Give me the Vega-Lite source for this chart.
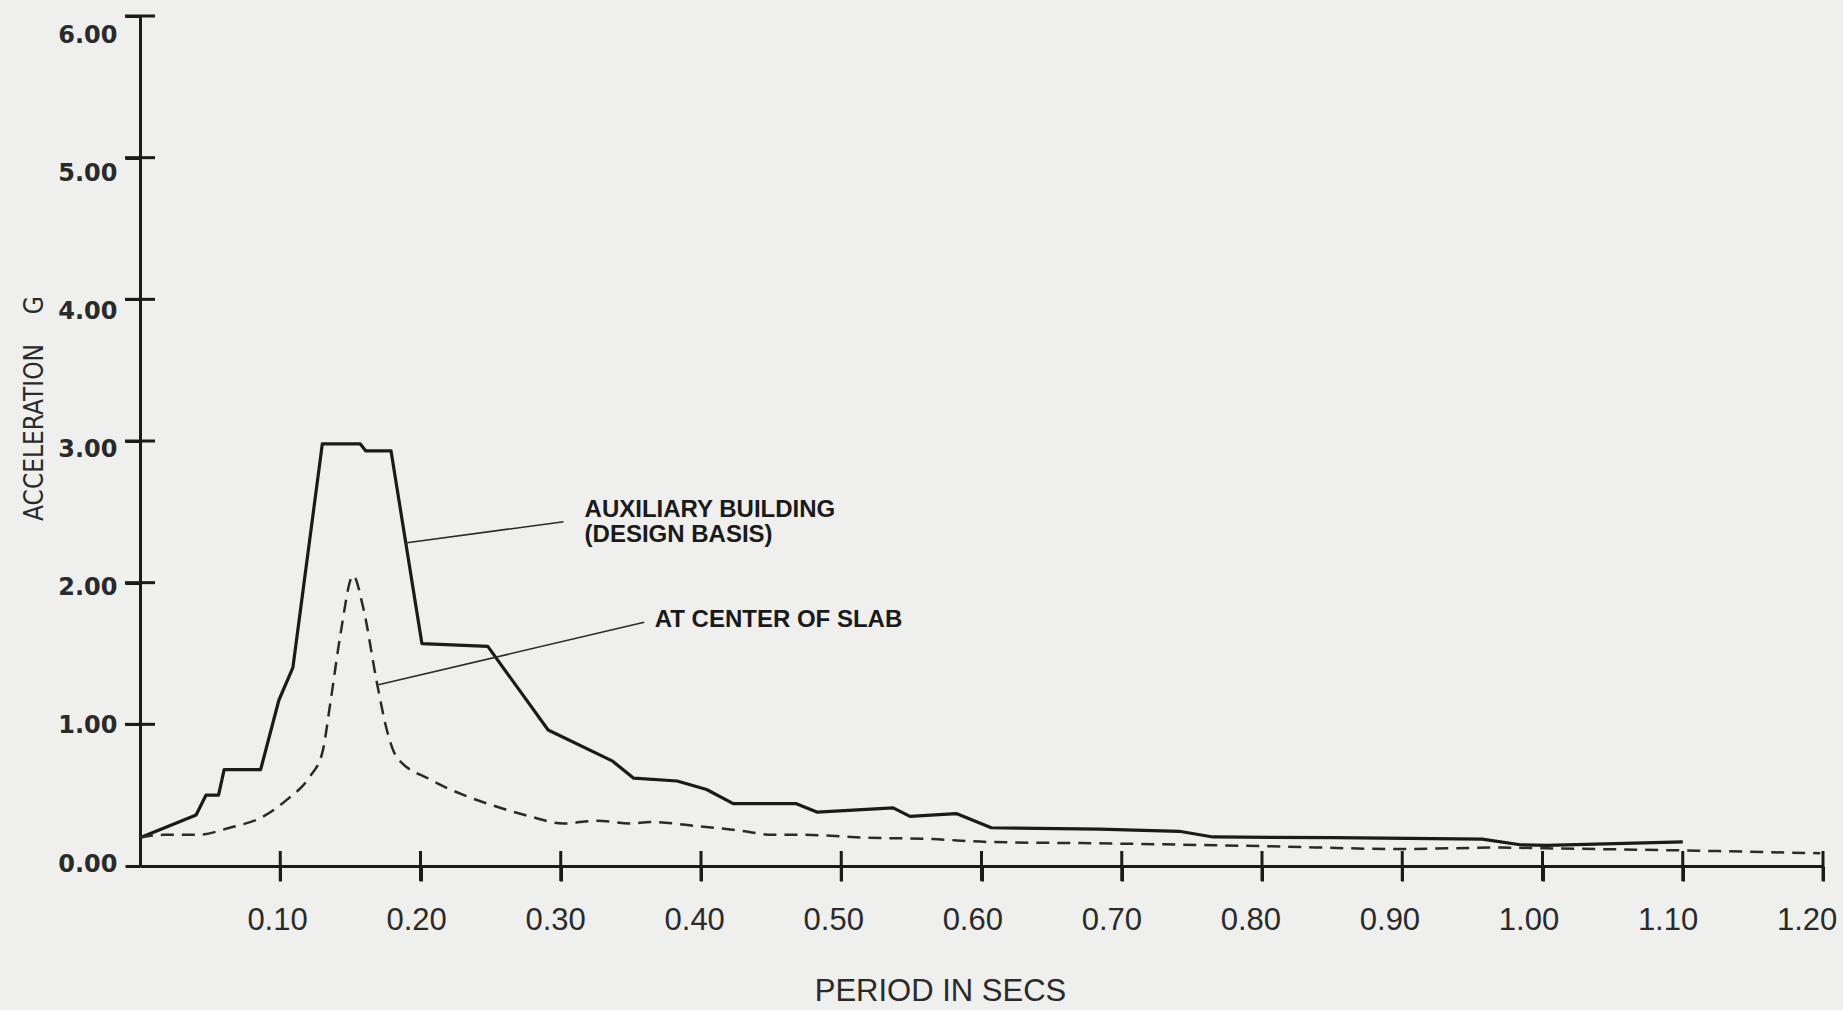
{
  "$schema": "https://vega.github.io/schema/vega-lite/v6.json",
  "width": 1683,
  "height": 850,
  "autosize": "none",
  "padding": {"left": 140, "top": 16, "right": 20, "bottom": 144},
  "background": "#efefed",
  "config": {"view": {"stroke": null}},
  "datasets": {
    "aux": [
      {"x": 0.0, "y": 0.20}, {"x": 0.040, "y": 0.36}, {"x": 0.047, "y": 0.50}, {"x": 0.056, "y": 0.50},
      {"x": 0.060, "y": 0.68}, {"x": 0.086, "y": 0.68}, {"x": 0.099, "y": 1.17}, {"x": 0.109, "y": 1.40},
      {"x": 0.130, "y": 2.98}, {"x": 0.157, "y": 2.98}, {"x": 0.161, "y": 2.93}, {"x": 0.179, "y": 2.93},
      {"x": 0.201, "y": 1.57}, {"x": 0.248, "y": 1.55}, {"x": 0.291, "y": 0.96}, {"x": 0.337, "y": 0.74},
      {"x": 0.352, "y": 0.62}, {"x": 0.383, "y": 0.60}, {"x": 0.404, "y": 0.54}, {"x": 0.423, "y": 0.44},
      {"x": 0.468, "y": 0.44}, {"x": 0.483, "y": 0.38}, {"x": 0.537, "y": 0.41}, {"x": 0.549, "y": 0.35},
      {"x": 0.582, "y": 0.37}, {"x": 0.607, "y": 0.27}, {"x": 0.684, "y": 0.26}, {"x": 0.741, "y": 0.245},
      {"x": 0.765, "y": 0.205}, {"x": 0.851, "y": 0.20}, {"x": 0.957, "y": 0.19}, {"x": 0.984, "y": 0.15},
      {"x": 1.003, "y": 0.146}, {"x": 1.10, "y": 0.17}
    ],
    "slab": [
      {"x": 0.0, "y": 0.20}, {"x": 0.017, "y": 0.22}, {"x": 0.041, "y": 0.22}, {"x": 0.064, "y": 0.27},
      {"x": 0.088, "y": 0.35}, {"x": 0.105, "y": 0.47}, {"x": 0.121, "y": 0.63}, {"x": 0.130, "y": 0.80},
      {"x": 0.136, "y": 1.17}, {"x": 0.143, "y": 1.64}, {"x": 0.152, "y": 2.05}, {"x": 0.159, "y": 1.83},
      {"x": 0.169, "y": 1.29}, {"x": 0.176, "y": 0.96}, {"x": 0.183, "y": 0.77}, {"x": 0.207, "y": 0.61},
      {"x": 0.231, "y": 0.50}, {"x": 0.254, "y": 0.42}, {"x": 0.278, "y": 0.35}, {"x": 0.302, "y": 0.30},
      {"x": 0.326, "y": 0.32}, {"x": 0.349, "y": 0.30}, {"x": 0.364, "y": 0.31}, {"x": 0.399, "y": 0.28},
      {"x": 0.428, "y": 0.25}, {"x": 0.451, "y": 0.22}, {"x": 0.471, "y": 0.22}, {"x": 0.518, "y": 0.20},
      {"x": 0.565, "y": 0.19}, {"x": 0.604, "y": 0.17}, {"x": 0.684, "y": 0.16}, {"x": 0.803, "y": 0.14},
      {"x": 0.898, "y": 0.12}, {"x": 0.970, "y": 0.13}, {"x": 1.003, "y": 0.125}, {"x": 1.10, "y": 0.11},
      {"x": 1.198, "y": 0.09}
    ],
    "leaders": [
      {"id": "a", "x": 0.189, "y": 2.28}, {"id": "a", "x": 0.302, "y": 2.43},
      {"id": "b", "x": 0.170, "y": 1.28}, {"id": "b", "x": 0.3595, "y": 1.72}
    ],
    "notes": [
      {"text": "AUXILIARY BUILDING", "x": 0.317, "y": 2.51},
      {"text": "(DESIGN BASIS)", "x": 0.317, "y": 2.34},
      {"text": "AT CENTER OF SLAB", "x": 0.367, "y": 1.74}
    ],
    "xticks": [
      {"x": 0.1, "y": 0}, {"x": 0.2, "y": 0}, {"x": 0.3, "y": 0}, {"x": 0.4, "y": 0}, {"x": 0.5, "y": 0},
      {"x": 0.6, "y": 0}, {"x": 0.7, "y": 0}, {"x": 0.8, "y": 0}, {"x": 0.9, "y": 0}, {"x": 1.0, "y": 0},
      {"x": 1.1, "y": 0}, {"x": 1.2, "y": 0}
    ],
    "yticks": [
      {"x": 0, "y": 1}, {"x": 0, "y": 2}, {"x": 0, "y": 3}, {"x": 0, "y": 4}, {"x": 0, "y": 5}, {"x": 0, "y": 6}
    ]
  },
  "layer": [
    {
      "data": {"name": "aux"},
      "mark": {"type": "line", "color": "#1a1a1a", "strokeWidth": 3.2, "strokeJoin": "round"},
      "encoding": {
        "x": {
          "field": "x", "type": "quantitative",
          "scale": {"domain": [0, 1.2], "nice": false, "zero": true},
          "axis": {
            "title": "PERIOD IN SECS",
            "values": [0.1, 0.2, 0.3, 0.4, 0.5, 0.6, 0.7, 0.8, 0.9, 1.0, 1.1, 1.2],
            "format": ".2f",
            "grid": false,
            "domainColor": "#1a1a1a", "domainWidth": 3,
            "ticks": true, "tickSize": 15, "tickWidth": 3, "tickColor": "#1a1a1a",
            "labelFont": "Liberation Sans", "labelFontSize": 31, "labelColor": "#2a2a2a",
            "labelPadding": 24, "labelOverlap": false, "labelFlush": false,
            "labelOffset": {"expr": "-2 - datum.value * 12"},
            "titleFont": "Liberation Sans", "titleFontSize": 31, "titleFontWeight": "normal", "titleColor": "#2a2a2a",
            "titleX": 800, "titleY": 134, "titleAlign": "center", "titleBaseline": "alphabetic", "titleAnchor": null
          }
        },
        "y": {
          "field": "y", "type": "quantitative",
          "scale": {"domain": [0, 6], "nice": false},
          "axis": {
            "title": "ACCELERATION\u00a0\u00a0\u00a0\u00a0G",
            "values": [0, 1, 2, 3, 4, 5, 6],
            "format": ".2f",
            "grid": false,
            "domainColor": "#1a1a1a", "domainWidth": 3,
            "ticks": true, "tickSize": 15, "tickWidth": 3, "tickColor": "#1a1a1a",
            "labelFont": "DejaVu Sans", "labelFontSize": 24, "labelFontWeight": "bold", "labelColor": "#2a2a2a",
            "labelPadding": 8,
            "labelOffset": {"expr": "datum.value * 3.5 - 2"},
            "titleFont": "'DejaVu Sans Condensed', 'Liberation Sans', sans-serif", "titleFontSize": 26, "titleFontWeight": "normal", "titleColor": "#2a2a2a",
            "titleAngle": -90, "titleX": -98, "titleY": 392, "titleAlign": "center", "titleBaseline": "alphabetic", "titleAnchor": null
          }
        }
      }
    },
    {
      "data": {"name": "slab"},
      "mark": {"type": "line", "color": "#2a2a2a", "strokeWidth": 2.5, "strokeDash": [13, 8], "interpolate": "monotone"},
      "encoding": {
        "x": {"field": "x", "type": "quantitative"},
        "y": {"field": "y", "type": "quantitative"}
      }
    },
    {
      "data": {"name": "leaders"},
      "mark": {"type": "line", "color": "#2a2a2a", "strokeWidth": 1.6},
      "encoding": {
        "x": {"field": "x", "type": "quantitative"},
        "y": {"field": "y", "type": "quantitative"},
        "detail": {"field": "id"}
      }
    },
    {
      "data": {"name": "notes"},
      "mark": {"type": "text", "align": "left", "baseline": "middle", "font": "Liberation Sans", "fontWeight": "bold", "fontSize": 24, "color": "#1a1a1a"},
      "encoding": {
        "x": {"field": "x", "type": "quantitative"},
        "y": {"field": "y", "type": "quantitative"},
        "text": {"field": "text"}
      }
    },
    {
      "data": {"name": "xticks"},
      "mark": {"type": "tick", "orient": "vertical", "size": 30, "thickness": 3, "color": "#1a1a1a", "opacity": 1},
      "encoding": {
        "x": {"field": "x", "type": "quantitative"},
        "y": {"field": "y", "type": "quantitative"}
      }
    },
    {
      "data": {"name": "yticks"},
      "mark": {"type": "tick", "orient": "horizontal", "size": 30, "thickness": 3, "color": "#1a1a1a", "opacity": 1},
      "encoding": {
        "x": {"field": "x", "type": "quantitative"},
        "y": {"field": "y", "type": "quantitative"}
      }
    }
  ]
}
